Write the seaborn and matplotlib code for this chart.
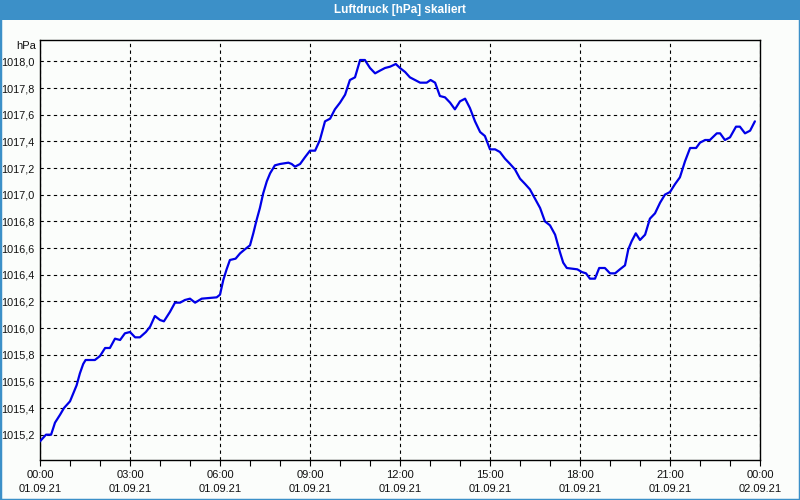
import matplotlib
matplotlib.use("Agg")
import matplotlib.pyplot as plt
import seaborn as sns
import pandas as pd
from matplotlib.patches import Rectangle
from matplotlib.ticker import FixedLocator, MultipleLocator

# ---- data ----
hours = [
    0.00, 0.20, 0.37, 0.50, 0.67, 0.80, 1.00, 1.11, 1.22, 1.33, 1.44, 1.52, 1.83, 2.00,
    2.17, 2.33, 2.50, 2.67, 2.83, 3.00, 3.17, 3.33, 3.53, 3.67, 3.83, 4.00, 4.13, 4.33,
    4.50, 4.67, 4.83, 5.00, 5.17, 5.39, 5.89, 6.00, 6.11, 6.22, 6.33, 6.52, 6.67, 6.83,
    7.00, 7.11, 7.22, 7.33, 7.44, 7.56, 7.67, 7.83, 8.00, 8.28, 8.39, 8.50, 8.67, 8.83,
    9.00, 9.17, 9.33, 9.50, 9.67, 9.83, 10.00, 10.17, 10.33, 10.50, 10.67, 10.83, 11.00,
    11.17, 11.33, 11.50, 11.67, 11.86, 12.00, 12.17, 12.33, 12.50, 12.67, 12.89, 13.02,
    13.17, 13.33, 13.50, 13.67, 13.83, 14.00, 14.17, 14.33, 14.50, 14.67, 14.83, 15.00,
    15.17, 15.33, 15.50, 15.67, 15.83, 16.00, 16.17, 16.33, 16.50, 16.67, 16.83, 17.00,
    17.17, 17.33, 17.44, 17.56, 17.91, 18.06, 18.20, 18.33, 18.50, 18.64, 18.83, 19.00,
    19.17, 19.33, 19.50, 19.61, 19.72, 19.86, 20.00, 20.17, 20.33, 20.50, 20.67, 20.83,
    21.00, 21.17, 21.33, 21.50, 21.67, 21.87, 22.00, 22.17, 22.33, 22.56, 22.67, 22.83,
    23.00, 23.20, 23.33, 23.50, 23.67, 23.83,
]
pressure = [
    1015.15, 1015.20, 1015.20, 1015.29, 1015.35, 1015.40, 1015.45, 1015.51, 1015.57, 1015.66,
    1015.73, 1015.76, 1015.76, 1015.79, 1015.85, 1015.85, 1015.92, 1015.91, 1015.96, 1015.97,
    1015.93, 1015.93, 1015.97, 1016.01, 1016.09, 1016.06, 1016.05, 1016.12, 1016.19, 1016.19,
    1016.21, 1016.22, 1016.19, 1016.22, 1016.23, 1016.25, 1016.36, 1016.44, 1016.51, 1016.52,
    1016.56, 1016.59, 1016.62, 1016.71, 1016.81, 1016.90, 1017.01, 1017.10, 1017.16, 1017.22,
    1017.23, 1017.24, 1017.23, 1017.21, 1017.23, 1017.28, 1017.33, 1017.33, 1017.41, 1017.55,
    1017.57, 1017.64, 1017.69, 1017.75, 1017.86, 1017.88, 1018.01, 1018.01, 1017.95, 1017.91,
    1017.93, 1017.95, 1017.96, 1017.98, 1017.95, 1017.92, 1017.88, 1017.86, 1017.84, 1017.84,
    1017.86, 1017.84, 1017.74, 1017.73, 1017.69, 1017.64, 1017.70, 1017.72, 1017.65, 1017.55,
    1017.47, 1017.44, 1017.34, 1017.34, 1017.32, 1017.27, 1017.23, 1017.19, 1017.12, 1017.08,
    1017.04, 1016.97, 1016.90, 1016.80, 1016.77, 1016.70, 1016.57, 1016.49, 1016.45, 1016.44,
    1016.42, 1016.41, 1016.37, 1016.37, 1016.45, 1016.45, 1016.41, 1016.41, 1016.44, 1016.47,
    1016.59, 1016.65, 1016.71, 1016.66, 1016.70, 1016.82, 1016.86, 1016.94, 1017.00, 1017.02,
    1017.08, 1017.13, 1017.25, 1017.35, 1017.35, 1017.39, 1017.41, 1017.41, 1017.46, 1017.46,
    1017.41, 1017.43, 1017.51, 1017.51, 1017.46, 1017.48, 1017.55,
]
x_ticks = [0, 3, 6, 9, 12, 15, 18, 21, 24]
x_tick_labels = [
    "00:00\n01.09.21", "03:00\n01.09.21", "06:00\n01.09.21", "09:00\n01.09.21",
    "12:00\n01.09.21", "15:00\n01.09.21", "18:00\n01.09.21", "21:00\n01.09.21",
    "00:00\n02.09.21",
]
y_ticks = [1015.2, 1015.4, 1015.6, 1015.8, 1016.0, 1016.2, 1016.4, 1016.6,
           1016.8, 1017.0, 1017.2, 1017.4, 1017.6, 1017.8, 1018.0]
title = "Luftdruck [hPa] skaliert"
unit = "hPa"

# ---- styling ----
sns.set_style("white")
plt.rcParams["font.family"] = ["Liberation Sans", "DejaVu Sans"]

bg = "#fbfdfb"
bar_blue = "#3c90c8"

fig = plt.figure(figsize=(8, 5), dpi=100, facecolor=bg)
ax = fig.add_axes([40 / 800, 40 / 500, 720 / 800, 420 / 500])
ax.set_facecolor(bg)

df = pd.DataFrame({"Stunde": hours, "hPa": pressure})
sns.lineplot(data=df, x="Stunde", y="hPa", ax=ax, color="#0000e8",
             linewidth=1.6, zorder=3)

ax.set_xlim(0, 24)
ax.set_ylim(1015.01, 1018.16)

ax.xaxis.set_major_locator(FixedLocator(x_ticks))
ax.set_xticklabels(x_tick_labels)
ax.xaxis.set_minor_locator(MultipleLocator(1))
ax.yaxis.set_major_locator(FixedLocator(y_ticks))
ax.set_yticklabels([f"{v:.1f}".replace(".", ",") for v in y_ticks])

ax.tick_params(axis="x", which="both", direction="out", length=4, width=0.8,
               color="black", labelsize=8, pad=3, bottom=True,
               labelcolor="#111111")
ax.tick_params(axis="y", which="both", length=0, labelsize=7.8, pad=4,
               labelcolor="#111111")
for lab in ax.get_xticklabels():
    lab.set_linespacing(1.55)

ax.grid(True, which="major", color="black", linestyle=(0, (3, 3)), linewidth=0.8)
for s in ax.spines.values():
    s.set_visible(True)
    s.set_color("black")
    s.set_linewidth(1.0)

ax.set_xlabel("")
ax.set_ylabel("")

# title bar
fig.patches.append(Rectangle((0, 1 - 20 / 500), 1, 20 / 500, transform=fig.transFigure,
                             facecolor=bar_blue, edgecolor="none", zorder=0))
fig.text(0.5, 1 - 10 / 500, title, color="white", fontweight="bold",
         ha="center", va="center", fontsize=8.5)
# window border
fig.patches.append(Rectangle((0, 0), 1, 1, transform=fig.transFigure, fill=False,
                             edgecolor=bar_blue, linewidth=2.5, zorder=5))
# unit label
fig.text(36 / 800, 1 - 46 / 500, unit, ha="right", va="center", fontsize=8,
         color="#111111")

fig.savefig("out.png", dpi=100, facecolor=bg)
